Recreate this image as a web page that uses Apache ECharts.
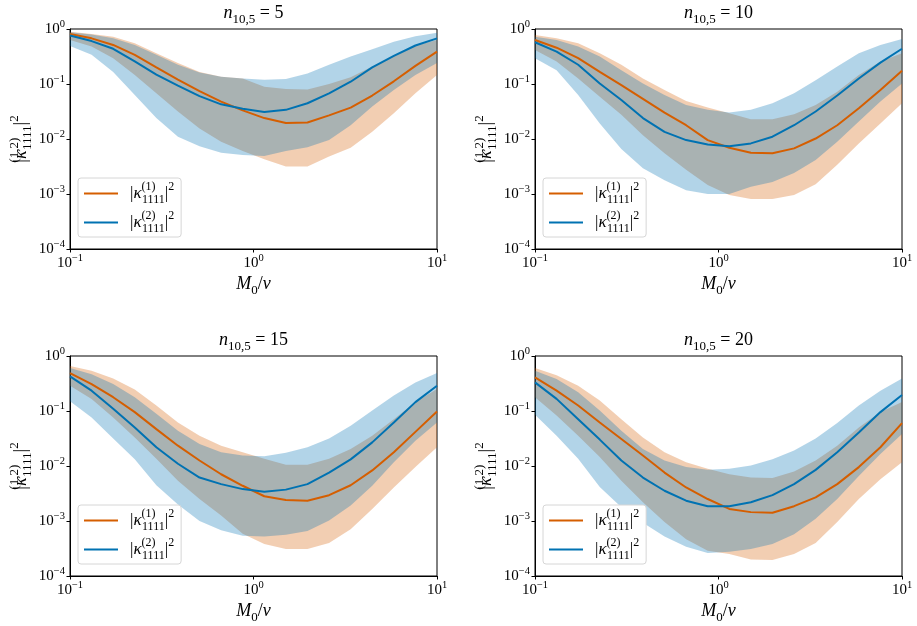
<!DOCTYPE html>
<html>
<head>
<meta charset="utf-8">
<script src="https://cdn.jsdelivr.net/npm/echarts@6.0.0/dist/echarts.min.js"></script>
<style>
  html, body { margin: 0; padding: 0; background: #fff; }
  #chart { width: 917px; height: 626px; }
</style>
</head>
<body>
<div id="chart"></div>
<script>
const FONT = '"Liberation Serif", "DejaVu Serif", serif';
const ORANGE = '#d55e00';
const BLUE = '#0072b2';

// M0/v sample points
const mOverV = [0.1, 0.1311, 0.1719, 0.2254, 0.2955, 0.3874, 0.508, 0.6661, 0.8733,
  1.145, 1.501, 1.968, 2.581, 3.384, 4.437, 5.817, 7.627, 10];

const nValues = [5, 10, 15, 20];

// n = 5
const k1_n5 = [0.813, 0.676, 0.513, 0.339, 0.200, 0.120, 0.0741, 0.0479, 0.0331, 0.0240, 0.0195, 0.0200, 0.0269, 0.0372, 0.0617, 0.112, 0.214, 0.389];
const k1lo_n5 = [0.631, 0.479, 0.295, 0.145, 0.0676, 0.0316, 0.0155, 0.00891, 0.00603, 0.00427, 0.00316, 0.00316, 0.00479, 0.00692, 0.0135, 0.0295, 0.0676, 0.145];
const k1hi_n5 = [0.891, 0.813, 0.724, 0.550, 0.363, 0.240, 0.166, 0.135, 0.126, 0.0891, 0.0813, 0.0794, 0.100, 0.132, 0.209, 0.324, 0.501, 0.631];
const k2_n5 = [0.759, 0.603, 0.437, 0.257, 0.148, 0.0933, 0.0603, 0.0427, 0.0355, 0.0309, 0.0339, 0.0447, 0.0676, 0.110, 0.200, 0.324, 0.501, 0.676];
const k2lo_n5 = [0.490, 0.339, 0.166, 0.0631, 0.0240, 0.0110, 0.00741, 0.00562, 0.00513, 0.00490, 0.00603, 0.00708, 0.00955, 0.0178, 0.0389, 0.0776, 0.145, 0.240];
const k2hi_n5 = [0.871, 0.794, 0.676, 0.513, 0.339, 0.224, 0.162, 0.135, 0.126, 0.120, 0.123, 0.155, 0.224, 0.316, 0.427, 0.589, 0.741, 0.851];

// n = 10
const k1_n10 = [0.631, 0.457, 0.295, 0.166, 0.0955, 0.0537, 0.0302, 0.0178, 0.00955, 0.00692, 0.00562, 0.00550, 0.00676, 0.0102, 0.0178, 0.0363, 0.0776, 0.174];
const k1lo_n10 = [0.417, 0.257, 0.126, 0.0589, 0.0275, 0.0117, 0.00550, 0.00275, 0.00145, 0.000955, 0.000813, 0.000813, 0.000955, 0.00151, 0.00339, 0.00832, 0.0191, 0.0447];
const k1hi_n10 = [0.776, 0.676, 0.550, 0.363, 0.224, 0.126, 0.0776, 0.0490, 0.0372, 0.0295, 0.0229, 0.0229, 0.0282, 0.0417, 0.0724, 0.145, 0.257, 0.363];
const k2_n10 = [0.575, 0.389, 0.224, 0.102, 0.0513, 0.0240, 0.0135, 0.00955, 0.00794, 0.00741, 0.00832, 0.0110, 0.0178, 0.0316, 0.0617, 0.126, 0.245, 0.437];
const k2lo_n10 = [0.295, 0.178, 0.0631, 0.0191, 0.00661, 0.00295, 0.00178, 0.00117, 0.00100, 0.00100, 0.00135, 0.00166, 0.00240, 0.00417, 0.00891, 0.0209, 0.0479, 0.102];
const k2hi_n10 = [0.724, 0.631, 0.479, 0.316, 0.178, 0.102, 0.0631, 0.0417, 0.0339, 0.0302, 0.0339, 0.0447, 0.0676, 0.117, 0.209, 0.363, 0.513, 0.661];

// n = 15
const k1_n15 = [0.490, 0.309, 0.178, 0.0955, 0.0468, 0.0234, 0.0126, 0.00708, 0.00437, 0.00282, 0.00240, 0.00234, 0.00295, 0.00447, 0.00832, 0.0178, 0.0417, 0.0977];
const k1lo_n15 = [0.288, 0.166, 0.0759, 0.0331, 0.0135, 0.00537, 0.00251, 0.00126, 0.000589, 0.000380, 0.000309, 0.000309, 0.000398, 0.000708, 0.00166, 0.00407, 0.00955, 0.0219];
const k1hi_n15 = [0.661, 0.537, 0.389, 0.245, 0.126, 0.0617, 0.0355, 0.0234, 0.0178, 0.0135, 0.0105, 0.0105, 0.0135, 0.0204, 0.0355, 0.0708, 0.145, 0.251];
const k2_n15 = [0.427, 0.234, 0.110, 0.0501, 0.0219, 0.0110, 0.00617, 0.00468, 0.00380, 0.00339, 0.00372, 0.00468, 0.00759, 0.0132, 0.0269, 0.0617, 0.145, 0.288];
const k2lo_n15 = [0.151, 0.0759, 0.0316, 0.0132, 0.00447, 0.00200, 0.00100, 0.000676, 0.000537, 0.000525, 0.000562, 0.000661, 0.00102, 0.00191, 0.00437, 0.0117, 0.0288, 0.0617];
const k2hi_n15 = [0.603, 0.468, 0.309, 0.178, 0.0891, 0.0437, 0.0251, 0.0178, 0.0155, 0.0151, 0.0174, 0.0219, 0.0316, 0.0537, 0.102, 0.191, 0.331, 0.490];

// n = 20
const k1_n20 = [0.407, 0.234, 0.126, 0.0617, 0.0309, 0.0155, 0.00759, 0.00407, 0.00251, 0.00166, 0.00145, 0.00141, 0.00186, 0.00269, 0.00468, 0.00955, 0.0219, 0.0603];
const k1lo_n20 = [0.178, 0.0832, 0.0355, 0.0145, 0.00537, 0.00219, 0.000955, 0.000468, 0.000288, 0.000251, 0.000200, 0.000195, 0.000251, 0.000398, 0.000955, 0.00251, 0.00575, 0.0117];
const k1hi_n20 = [0.603, 0.447, 0.288, 0.155, 0.0708, 0.0331, 0.0178, 0.0117, 0.00891, 0.00708, 0.00617, 0.00603, 0.00794, 0.0126, 0.0234, 0.0501, 0.0955, 0.145];
const k2_n20 = [0.331, 0.166, 0.0708, 0.0302, 0.0126, 0.00617, 0.00355, 0.00234, 0.00186, 0.00186, 0.00219, 0.00295, 0.00468, 0.00851, 0.0178, 0.0407, 0.0955, 0.195];
const k2lo_n20 = [0.0851, 0.0355, 0.0135, 0.00417, 0.00178, 0.000933, 0.000525, 0.000339, 0.000263, 0.000275, 0.000309, 0.000380, 0.000575, 0.00110, 0.00251, 0.00661, 0.0166, 0.0380];
const k2hi_n20 = [0.537, 0.380, 0.219, 0.102, 0.0437, 0.0204, 0.0126, 0.00955, 0.00851, 0.00891, 0.0102, 0.0132, 0.0191, 0.0316, 0.0603, 0.126, 0.234, 0.389];

const panels = [
  { k1: k1_n5, k1lo: k1lo_n5, k1hi: k1hi_n5, k2: k2_n5, k2lo: k2lo_n5, k2hi: k2hi_n5 },
  { k1: k1_n10, k1lo: k1lo_n10, k1hi: k1hi_n10, k2: k2_n10, k2lo: k2lo_n10, k2hi: k2hi_n10 },
  { k1: k1_n15, k1lo: k1lo_n15, k1hi: k1hi_n15, k2: k2_n15, k2lo: k2lo_n15, k2hi: k2hi_n15 },
  { k1: k1_n20, k1lo: k1lo_n20, k1hi: k1hi_n20, k2: k2_n20, k2lo: k2lo_n20, k2hi: k2hi_n20 }
];

const gridPos = [
  { left: 70, top: 29 },
  { left: 535, top: 29 },
  { left: 70, top: 356 },
  { left: 535, top: 356 }
];
const GW = 367, GH = 220;

// rich text pieces for the math labels
function mathRich(size) {
  const s = Math.round(size * 0.7);
  const base = { fontFamily: FONT, fontWeight: 'normal', color: '#000' };
  return {
    t: Object.assign({}, base, { fontSize: size, lineHeight: size + 8 }),
    i: Object.assign({}, base, { fontSize: size, fontStyle: 'italic', lineHeight: size + 8 }),
    sup: Object.assign({}, base, { fontSize: s, lineHeight: s + 1, verticalAlign: 'top' }),
    // superscript stacked over the following subscript
    sups: Object.assign({}, base, { fontSize: s, lineHeight: s + 1, verticalAlign: 'top', width: 0.5 }),
    sub: Object.assign({}, base, { fontSize: s, lineHeight: s + 1, verticalAlign: 'bottom' }),
    pad: Object.assign({}, base, { fontSize: size, lineHeight: size + 8, padding: [0, 0, 0, 7] })
  };
}

const tickRich = {
  b: { fontFamily: FONT, fontSize: 15, lineHeight: 20, color: '#000' },
  s: { fontFamily: FONT, fontSize: 10.5, lineHeight: 11, verticalAlign: 'top', color: '#000' }
};

function powLabel(v) {
  const e = Math.round(Math.log10(v));
  return '{b|10}{s|' + (e < 0 ? '\u2212' + (-e) : e) + '}';
}

const legendText = {
  k1: '{pad||}{i|\u03ba}{sups|(1)}{sub|1111}{t||}{sup|2}',
  k2: '{pad||}{i|\u03ba}{sups|(2)}{sub|1111}{t||}{sup|2}'
};

function bandSeries(i, lo, hi, color, z) {
  return {
    type: 'custom',
    xAxisIndex: i,
    yAxisIndex: i,
    silent: true,
    z: z,
    clip: true,
    data: mOverV.map((x, j) => [x, lo[j], hi[j]]),
    renderItem: function (params, api) {
      if (params.dataIndex !== 0) return null;
      const pts = [];
      for (let j = 0; j < mOverV.length; j++) pts.push(api.coord([mOverV[j], hi[j]]));
      for (let j = mOverV.length - 1; j >= 0; j--) pts.push(api.coord([mOverV[j], lo[j]]));
      return { type: 'polygon', shape: { points: pts }, style: { fill: color } };
    }
  };
}

function lineSeries(i, name, ys, color, z) {
  return {
    type: 'line',
    name: name,
    xAxisIndex: i,
    yAxisIndex: i,
    z: z,
    showSymbol: false,
    symbol: 'none',
    silent: true,
    data: mOverV.map((x, j) => [x, ys[j]]),
    lineStyle: { color: color, width: 2 },
    itemStyle: { color: color }
  };
}

const series = [];
panels.forEach((p, i) => {
  series.push(bandSeries(i, p.k1lo, p.k1hi, 'rgba(213,94,0,0.3)', 1));
  series.push(bandSeries(i, p.k2lo, p.k2hi, 'rgba(0,114,178,0.3)', 2));
  series.push(lineSeries(i, 'k1', p.k1, ORANGE, 3));
  series.push(lineSeries(i, 'k2', p.k2, BLUE, 4));
});

const option = {
  animation: false,
  backgroundColor: '#fff',
  title: nValues.map((n, i) => ({
    text: '{i|n}{sub|10,5}{t| = ' + n + '}',
    left: gridPos[i].left + GW / 2,
    top: gridPos[i].top - 29,
    textAlign: 'center',
    padding: 0,
    textStyle: { fontWeight: 'normal', rich: mathRich(18) }
  })),
  grid: gridPos.map(g => ({
    left: g.left, top: g.top, width: GW, height: GH,
    show: true, borderColor: '#000', borderWidth: 1, backgroundColor: 'transparent',
    containLabel: false, outerBoundsMode: 'none'
  })),
  xAxis: gridPos.map((g, i) => ({
    gridIndex: i,
    type: 'log',
    logBase: 10,
    min: 0.1,
    max: 10,
    axisLine: { show: true, lineStyle: { color: '#000', width: 1 } },
    axisTick: { show: true, length: 3.5, lineStyle: { color: '#000', width: 1 } },
    splitLine: { show: false },
    axisLabel: { formatter: powLabel, margin: 4, rich: tickRich },
    name: '{i|M}{sub|0}{t|/}{i|v}',
    nameLocation: 'middle',
    nameGap: 22,
    nameTextStyle: { rich: mathRich(18) }
  })),
  yAxis: gridPos.map((g, i) => ({
    gridIndex: i,
    type: 'log',
    logBase: 10,
    min: 0.0001,
    max: 1,
    axisLine: { show: true, lineStyle: { color: '#000', width: 1 } },
    axisTick: { show: true, length: 3.5, lineStyle: { color: '#000', width: 1 } },
    splitLine: { show: false },
    axisLabel: { formatter: powLabel, margin: 5, rich: tickRich },
    name: '{t||}{i|\u03ba}{sups|(1,2)}{sub|1111}{t||}{sup|2}',
    nameLocation: 'middle',
    nameRotate: 90,
    nameGap: 36,
    nameTextStyle: { rich: mathRich(18) }
  })),
  legend: gridPos.map(g => ({
    left: g.left + 8,
    top: g.top + 149,
    orient: 'vertical',
    data: ['k1', 'k2'],
    selectedMode: false,
    icon: 'rect',
    itemWidth: 34,
    itemHeight: 2,
    itemGap: 4,
    padding: [3, 7, 2, 6],
    backgroundColor: '#fff',
    borderColor: '#d6d6d6',
    borderWidth: 1,
    borderRadius: 3,
    formatter: name => legendText[name],
    textStyle: { rich: mathRich(17) }
  })),
  series: series
};

const chart = echarts.init(document.getElementById('chart'), null, { renderer: 'canvas' });
chart.setOption(option);
</script>
</body>
</html>
